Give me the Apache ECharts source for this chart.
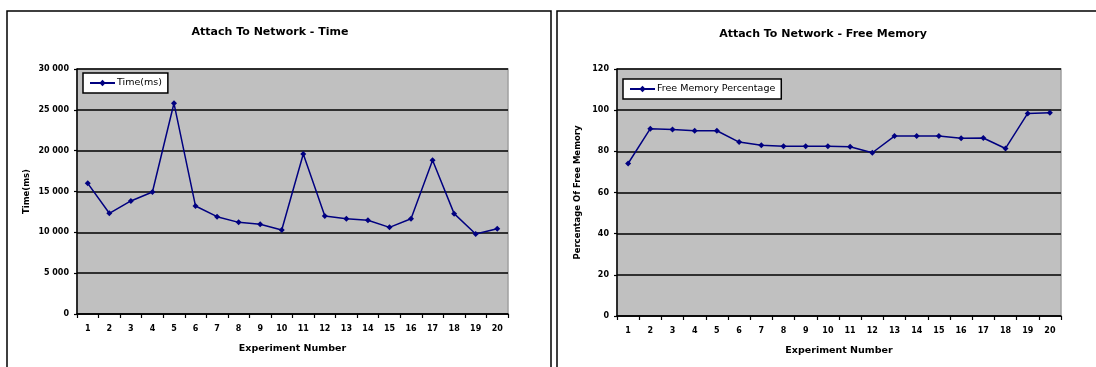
<!DOCTYPE html>
<html>
<head>
<meta charset="utf-8">
<script src="https://cdn.jsdelivr.net/npm/echarts@6/dist/echarts.min.js"></script>
<style>
  html, body { margin: 0; padding: 0; background: #fff; }
  #chart { width: 1096px; height: 367px; }
</style>
</head>
<body>
<div id="chart"></div>
<script>
// Experiment numbers shared by both panels
const experiments = ['1','2','3','4','5','6','7','8','9','10','11','12','13','14','15','16','17','18','19','20'];

// Time to attach to the network, per experiment (ms)
const attachTimeMs = [16000, 12330, 13840, 14940, 25800, 13220, 11920, 11220, 10980, 10290,
                      19590, 12000, 11670, 11470, 10610, 11670, 18820, 12290, 9800, 10450];

// Free memory after attaching, per experiment (%)
const freeMemoryPct = [74.1, 91, 90.6, 90, 90, 84.5, 82.9, 82.5, 82.5, 82.5,
                       82.2, 79.3, 87.4, 87.4, 87.4, 86.3, 86.5, 81.4, 98.4, 98.7];

const FONT = '"DejaVu Sans", "Liberation Sans", Arial, sans-serif';
const NAVY = '#000080';
const labelStyle = { fontFamily: FONT, fontSize: 8, fontWeight: 'bold', color: '#000' };
const nameStyle = { fontFamily: FONT, fontSize: 8.5, fontWeight: 'bold', color: '#000' };

function spaced(v) {
  return String(v).replace(/\B(?=(\d{3})+(?!\d))/g, ' ');
}

function xAxisFor(gridIndex) {
  return {
    type: 'category', gridIndex, data: experiments,
    name: 'Experiment Number', nameLocation: 'middle', nameGap: 30,
    nameTextStyle: Object.assign({}, nameStyle, { fontSize: 9.5 }),
    axisLine: { lineStyle: { color: '#000', width: 1.5 } },
    axisTick: { show: true, length: 4, lineStyle: { color: '#000', width: 1.2 } },
    axisLabel: Object.assign({ margin: 11, interval: 0 }, labelStyle),
    splitLine: { show: false }
  };
}

function yAxisFor(gridIndex, name, max, interval, nameGap, fmt) {
  return {
    type: 'value', gridIndex, min: 0, max, interval,
    name, nameLocation: 'middle', nameGap,
    nameTextStyle: nameStyle,
    axisLine: { show: true, lineStyle: { color: '#000', width: 1.5 } },
    axisTick: { show: true, length: 3, lineStyle: { color: '#000', width: 1.2 } },
    axisLabel: Object.assign({ margin: 8, formatter: fmt }, labelStyle),
    splitLine: { show: true, lineStyle: { color: '#000', width: 1.5 } }
  };
}

function legendFor(left, top, name) {
  return {
    data: [name], left, top, orient: 'vertical',
    backgroundColor: '#fff', borderColor: '#000', borderWidth: 1.5,
    padding: [5, 6, 5, 6], itemWidth: 25, itemHeight: 8, itemGap: 0,
    textStyle: { fontFamily: FONT, fontSize: 9.5, color: '#000', padding: [0, 0, 0, -3] }
  };
}

function seriesFor(name, idx, data) {
  return {
    name, type: 'line', xAxisIndex: idx, yAxisIndex: idx, data,
    symbol: 'diamond', symbolSize: 6, showSymbol: true,
    lineStyle: { color: NAVY, width: 1.5 },
    itemStyle: { color: NAVY },
    emphasis: { disabled: true },
    animation: false
  };
}

const chart = echarts.init(document.getElementById('chart'), null, { renderer: 'canvas' });

chart.setOption({
  animation: false,
  backgroundColor: '#fff',
  graphic: [
    { type: 'rect', shape: { x: 7, y: 11, width: 544, height: 380 },
      style: { fill: 'none', stroke: '#000', lineWidth: 1.5 }, silent: true },
    { type: 'rect', shape: { x: 557, y: 11, width: 560, height: 380 },
      style: { fill: 'none', stroke: '#000', lineWidth: 1.5 }, silent: true }
  ],
  title: [
    { text: 'Attach To Network - Time', left: 265, top: 22, textAlign: 'center',
      textStyle: { fontFamily: FONT, fontSize: 11, fontWeight: 'bold', color: '#000' } },
    { text: 'Attach To Network - Free Memory', left: 818, top: 24, textAlign: 'center',
      textStyle: { fontFamily: FONT, fontSize: 11, fontWeight: 'bold', color: '#000' } }
  ],
  legend: [
    legendFor(83, 73, 'Time(ms)'),
    legendFor(623, 79, 'Free Memory Percentage')
  ],
  grid: [
    { left: 77, top: 69, width: 431, height: 245, show: true,
      backgroundColor: '#c0c0c0', borderColor: '#a0a0a0', borderWidth: 1.5 },
    { left: 617, top: 69, width: 444, height: 247, show: true,
      backgroundColor: '#c0c0c0', borderColor: '#a0a0a0', borderWidth: 1.5 }
  ],
  xAxis: [xAxisFor(0), xAxisFor(1)],
  yAxis: [
    yAxisFor(0, 'Time(ms)', 30000, 5000, 46, spaced),
    yAxisFor(1, 'Percentage Of Free Memory', 120, 20, 35, v => String(v))
  ],
  series: [
    seriesFor('Time(ms)', 0, attachTimeMs),
    seriesFor('Free Memory Percentage', 1, freeMemoryPct)
  ]
});
</script>
</body>
</html>
